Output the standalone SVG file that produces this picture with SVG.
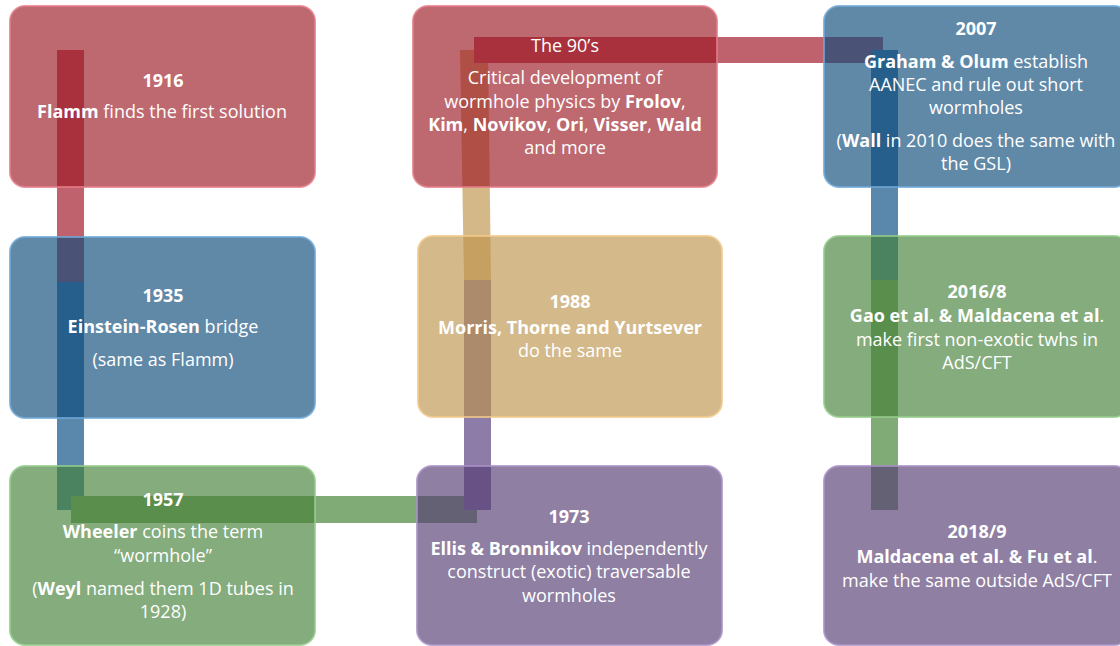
<svg xmlns="http://www.w3.org/2000/svg" width="1120" height="646" viewBox="0 0 1120 646">
<style>
.box{fill-opacity:0.65;stroke-width:2;stroke-opacity:0.8}
.red{fill:#9b1723;stroke:#e47c88}
.blue{fill:#0a4979;stroke:#6fa8d6}
.green{fill:#437f37;stroke:#93cc8a}
.tan{fill:#bd934b;stroke:#f3c98b}
.purple{fill:#533a72;stroke:#a991c6}
text{font-family:"Open Sans","Noto Sans","DejaVu Sans",sans-serif;font-size:18px;fill:#ffffff;text-anchor:middle}
.b{font-weight:700}
.y{font-weight:700;font-size:18px}
</style>
<rect width="1120" height="646" fill="#ffffff"/>
<g id="connectors">
<rect x="57" y="50" width="27" height="232" fill="#c0626d"/>
<rect x="57" y="282" width="27" height="228" fill="#5a87ac"/>
<rect x="71" y="496" width="406" height="27" fill="#80aa76"/>
<rect x="464" y="280" width="27" height="230" fill="#8e7ca8"/>
<polygon points="460,50 488,50 491,280 464,280" fill="#d4b888"/>
<rect x="474" y="37" width="409" height="26" fill="#c0626d"/>
<rect x="871" y="50" width="27" height="230" fill="#5a87ac"/>
<rect x="871" y="280" width="27" height="230" fill="#80aa76"/>
</g>
<g id="n1916">
<rect class="box red" x="10" y="6" width="305" height="181" rx="15"/>
<text x="163" y="87" class="y">1916</text>
<text x="162" y="118"><tspan class="b">Flamm</tspan> finds the first solution</text>
</g>
<g id="n1935">
<rect class="box blue" x="10" y="237" width="305" height="181" rx="15"/>
<text x="163" y="302" class="y">1935</text>
<text x="163" y="333"><tspan class="b">Einstein-Rosen</tspan> bridge</text>
<text x="163" y="366">(same as Flamm)</text>
</g>
<g id="n1957">
<rect class="box green" x="10" y="466" width="305" height="179" rx="15"/>
<text x="163" y="506" class="y">1957</text>
<text x="163" y="538"><tspan class="b">Wheeler</tspan> coins the term</text>
<text x="163" y="562">“wormhole”</text>
<text x="163" y="595">(<tspan class="b">Weyl</tspan> named them 1D tubes in</text>
<text x="163" y="618">1928)</text>
</g>
<g id="n1973">
<rect class="box purple" x="417" y="466" width="305" height="179" rx="15"/>
<text x="569" y="523" class="y">1973</text>
<text x="569" y="555"><tspan class="b">Ellis &amp; Bronnikov</tspan> independently</text>
<text x="569" y="578">construct (exotic) traversable</text>
<text x="569" y="602">wormholes</text>
</g>
<g id="n1988">
<rect class="box tan" x="418" y="236" width="304" height="181" rx="15"/>
<text x="570" y="308" class="y">1988</text>
<text x="570" y="334" class="b">Morris, Thorne and Yurtsever</text>
<text x="570" y="357">do the same</text>
</g>
<g id="n90s">
<rect class="box red" x="413" y="6" width="304" height="181" rx="15"/>
<text x="565" y="52">The 90’s</text>
<text x="565" y="84">Critical development of</text>
<text x="565" y="108">wormhole physics by <tspan class="b">Frolov</tspan>,</text>
<text x="565" y="131"><tspan class="b">Kim</tspan>, <tspan class="b">Novikov</tspan>, <tspan class="b">Ori</tspan>, <tspan class="b">Visser</tspan>, <tspan class="b">Wald</tspan></text>
<text x="565" y="154">and more</text>
</g>
<g id="n2007">
<rect class="box blue" x="824" y="6" width="305" height="181" rx="15"/>
<text x="976" y="35" class="y">2007</text>
<text x="976" y="68"><tspan class="b">Graham &amp; Olum</tspan> establish</text>
<text x="976" y="91">AANEC and rule out short</text>
<text x="976" y="114">wormholes</text>
<text x="976" y="147">(<tspan class="b">Wall</tspan> in 2010 does the same with</text>
<text x="976" y="170">the GSL)</text>
</g>
<g id="n2016">
<rect class="box green" x="824" y="236" width="305" height="181" rx="15"/>
<text x="977" y="298" class="y">2016/8</text>
<text x="977" y="322"><tspan class="b">Gao et al. &amp; Maldacena et al</tspan>.</text>
<text x="977" y="346">make first non-exotic twhs in</text>
<text x="977" y="369">AdS/CFT</text>
</g>
<g id="n2018">
<rect class="box purple" x="824" y="466" width="305" height="179" rx="15"/>
<text x="977" y="538" class="y">2018/9</text>
<text x="977" y="563"><tspan class="b">Maldacena et al. &amp; Fu et al</tspan>.</text>
<text x="977" y="587">make the same outside AdS/CFT</text>
</g>
</svg>
